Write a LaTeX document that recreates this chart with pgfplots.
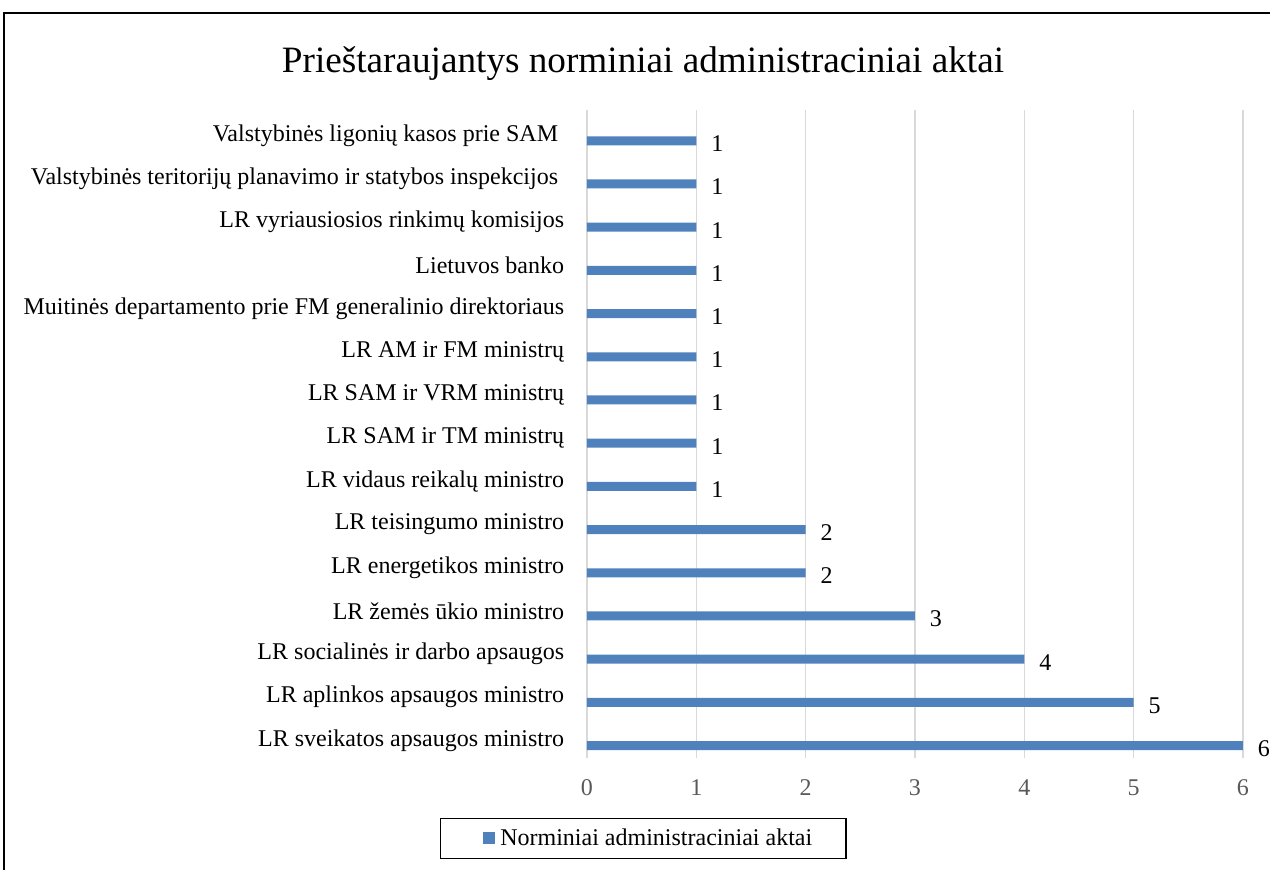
\documentclass[border=0pt]{standalone}
\usepackage{fontspec}
\setmainfont{Liberation Serif}
\usepackage{pgfplots}
\pgfplotsset{compat=1.18}
\definecolor{barblue}{RGB}{79,129,189}
\definecolor{gridgray}{RGB}{217,217,217}
\definecolor{tickgray}{RGB}{89,89,89}
\begin{document}
\begin{tikzpicture}
\useasboundingbox (0,0) rectangle (635pt,435pt);
\draw[line width=1pt] (635pt,428.5pt) -- (2pt,428.5pt) -- (2pt,0pt);
\node[font=\fontsize{18.6}{22}\selectfont, anchor=center, inner sep=0pt] at (321.5pt,403pt) {Prieštaraujantys norminiai administraciniai aktai};
\begin{axis}[
  at={(293.5pt,56pt)}, anchor=south west,
  scale only axis, width=328pt, height=324pt,
  xbar, bar width=4.5pt, bar shift=-4.6pt,
  xmin=0, xmax=6, ymin=-0.5, ymax=14.5,
  xtick={0,1,2,3,4,5,6}, ytick={0,1,...,14},
  yticklabels={
    LR sveikatos apsaugos ministro,
    LR aplinkos apsaugos ministro,
    LR socialinės ir darbo apsaugos,
    LR žemės ūkio ministro,
    LR energetikos ministro,
    LR teisingumo ministro,
    LR vidaus reikalų ministro,
    LR SAM ir TM ministrų,
    LR SAM ir VRM ministrų,
    LR AM ir FM ministrų,
    Muitinės departamento prie FM generalinio direktoriaus,
    Lietuvos banko,
    LR vyriausiosios rinkimų komisijos,
    {Valstybinės teritorijų planavimo ir statybos inspekcijos\hspace*{3pt}},
    {Valstybinės ligonių kasos prie SAM\hspace*{3pt}}},
  axis line style={draw=none},
  xmajorgrids, grid style={gridgray, line width=0.75pt},
  major tick length=0pt, tick style={draw=none},
  /pgf/number format/assume math mode=true,
  yticklabel style={font=\fontsize{12}{14}\selectfont, anchor=east, inner sep=0pt, xshift=-11.25pt, yshift=-2pt, text=black},
  xticklabel style={font=\fontsize{12}{14}\selectfont, anchor=north, inner sep=0pt, yshift=-10.45pt, text=tickgray},
  nodes near coords,
  every node near coord/.append style={font=\fontsize{12}{14}\selectfont, anchor=west, inner sep=0pt, xshift=7.3pt, yshift=-1.5pt, text=black},
  clip=false,
  legend style={at={(rel axis cs:0.0858,-0.1242)}, anchor=center, draw=black, line width=0.75pt,
    font=\fontsize{12}{14}\selectfont, inner xsep=15.5pt, inner ysep=3.5pt,
    nodes={inner sep=1.5pt}},
  legend image code/.code={\path (-6pt,0pt) (7pt,0pt); \fill[barblue] (0pt,-3pt) rectangle (6pt,3pt);},
]
\addplot[fill=barblue, draw=none] coordinates {
  (6,0) (5,1) (4,2) (3,3) (2,4) (2,5) (1,6) (1,7) (1,8) (1,9) (1,10) (1,11) (1,12) (1,13) (1,14)};
\addlegendentry{Norminiai administraciniai aktai}
\end{axis}
\end{tikzpicture}
\end{document}
